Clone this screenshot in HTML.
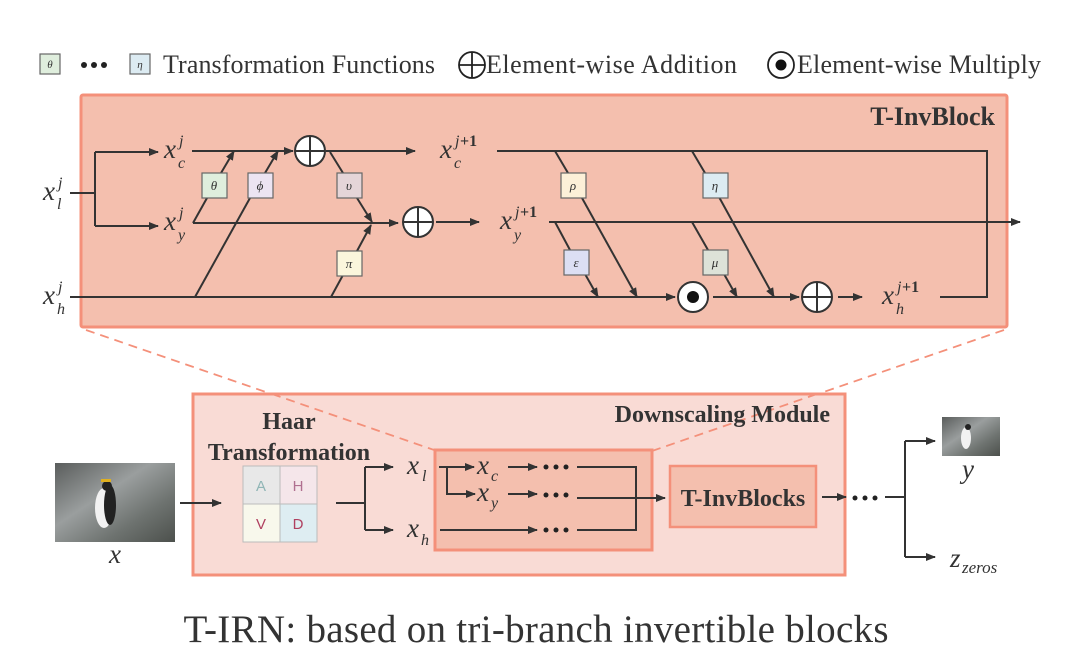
<!DOCTYPE html>
<html><head><meta charset="utf-8"><style>
html,body{margin:0;padding:0;background:#fff;}
svg{display:block;}
text{font-family:"Liberation Serif",serif;fill:#333;}
.m{font-style:italic;}
</style></head><body>
<svg width="1080" height="668" viewBox="0 0 1080 668" xmlns="http://www.w3.org/2000/svg">
<defs>
<marker id="a" markerWidth="10" markerHeight="8" refX="9" refY="4" orient="auto" markerUnits="userSpaceOnUse"><path d="M0,0 L10,4 L0,8 z" fill="#333"/></marker>
<linearGradient id="rock" x1="0" y1="0" x2="1" y2="1"><stop offset="0" stop-color="#5a5d5c"/><stop offset="0.4" stop-color="#9a9e9e"/><stop offset="0.7" stop-color="#6e7370"/><stop offset="1" stop-color="#4c504c"/></linearGradient>
</defs>

<!-- legend -->
<rect x="40" y="54" width="20" height="20" fill="#dfeedd" stroke="#666" stroke-width="1.2"/>
<text x="50" y="68" font-size="11" class="m" text-anchor="middle">θ</text>
<circle cx="84" cy="65" r="3" fill="#222"/><circle cx="94" cy="65" r="3" fill="#222"/><circle cx="104" cy="65" r="3" fill="#222"/>
<rect x="130" y="54" width="20" height="20" fill="#dcebf2" stroke="#666" stroke-width="1.2"/>
<text x="140" y="68" font-size="11" class="m" text-anchor="middle">η</text>
<text x="163" y="73" font-size="26" textLength="272">Transformation Functions</text>
<circle cx="472" cy="65" r="13" fill="#fff" stroke="#222" stroke-width="1.8"/><path d="M459,65 H485 M472,52 V78" stroke="#222" stroke-width="1.8"/>
<text x="486" y="73" font-size="26" textLength="251">Element-wise Addition</text>
<circle cx="781" cy="65" r="13" fill="#fff" stroke="#222" stroke-width="1.8"/><circle cx="781" cy="65" r="5.5" fill="#111"/>
<text x="797" y="73" font-size="26" textLength="244">Element-wise Multiply</text>

<!-- T-InvBlock -->
<rect x="81" y="95" width="926" height="232" fill="#f4bfae" stroke="#f4907a" stroke-width="3" rx="2"/>
<text x="995" y="125" font-size="26" font-weight="bold" text-anchor="end">T-InvBlock</text>

<g stroke="#333" stroke-width="2" fill="none">
<path d="M70,193 H95 M95,152 V226"/>
<path d="M95,152 H158" marker-end="url(#a)"/>
<path d="M95,226 H158" marker-end="url(#a)"/>
<path d="M192,151 H293" marker-end="url(#a)"/>
<path d="M193,223 H398" marker-end="url(#a)"/>
<path d="M193,223 L207,198"/><path d="M221,173 L234,151" marker-end="url(#a)"/>
<path d="M195,297 L250,198"/><path d="M265,173 L278,151" marker-end="url(#a)"/>
<path d="M326,151 H415" marker-end="url(#a)"/>
<path d="M330,152 L343,173"/><path d="M357,198 L372,222" marker-end="url(#a)"/>
<path d="M331,297 L343,275"/><path d="M357,251 L371,225" marker-end="url(#a)"/>
<path d="M436,222 H479" marker-end="url(#a)"/>
<path d="M497,151 H987 V297 H940"/>
<path d="M549,222 H1020" marker-end="url(#a)"/>
<path d="M70,297 H675" marker-end="url(#a)"/>
<path d="M555,151 L568,173"/><path d="M582,198 L637,297" marker-end="url(#a)"/>
<path d="M555,222 L570,250"/><path d="M585,274 L598,297" marker-end="url(#a)"/>
<path d="M692,151 L705,173"/><path d="M719,197 L774,297" marker-end="url(#a)"/>
<path d="M692,222 L708,250"/><path d="M724,274 L737,297" marker-end="url(#a)"/>
<path d="M713,297 H799" marker-end="url(#a)"/>
<path d="M838,297 H862" marker-end="url(#a)"/>
</g>
<g stroke="#333" stroke-width="2">
<circle cx="310" cy="151" r="15" fill="#fff"/><path d="M295,151 H325 M310,136 V166"/>
<circle cx="418" cy="222" r="15" fill="#fff"/><path d="M403,222 H433 M418,207 V237"/>
<circle cx="817" cy="297" r="15" fill="#fff"/><path d="M802,297 H832 M817,282 V312"/>
<circle cx="693" cy="297" r="15" fill="#fff"/>
</g>
<circle cx="693" cy="297" r="6" fill="#111"/>
<g stroke="#666" stroke-width="1.2">
<rect x="202" y="173" width="25" height="25" fill="#dfeedd"/>
<rect x="248" y="173" width="25" height="25" fill="#ece4f2"/>
<rect x="337" y="173" width="25" height="25" fill="#e5d5d8"/>
<rect x="337" y="251" width="25" height="25" fill="#fbf6dc"/>
<rect x="561" y="173" width="25" height="25" fill="#fcf0d8"/>
<rect x="564" y="250" width="25" height="25" fill="#dcdff3"/>
<rect x="703" y="173" width="25" height="25" fill="#dcebf2"/>
<rect x="703" y="250" width="25" height="25" fill="#dde2d8"/>
</g>
<g font-size="13" text-anchor="middle">
<text x="214" y="190" class="m">θ</text><text x="260" y="190" class="m">ϕ</text>
<text x="349" y="190" class="m">υ</text><text x="349" y="268" class="m">π</text>
<text x="573" y="190" class="m">ρ</text><text x="576" y="267" class="m">ε</text>
<text x="715" y="190" class="m">η</text><text x="715" y="267" class="m">μ</text>
</g>
<g font-size="27">
<text x="43" y="200" class="m">x</text><text x="58" y="188" font-size="16" class="m">j</text><text x="57" y="209" font-size="16" class="m">l</text>
<text x="43" y="304" class="m">x</text><text x="58" y="292" font-size="16" class="m">j</text><text x="57" y="314" font-size="16" class="m">h</text>
<text x="164" y="158" class="m">x</text><text x="179" y="146" font-size="16" class="m">j</text><text x="178" y="168" font-size="16" class="m">c</text>
<text x="164" y="230" class="m">x</text><text x="179" y="218" font-size="16" class="m">j</text><text x="178" y="240" font-size="16" class="m">y</text>
<text x="440" y="158" class="m">x</text><text x="455" y="146" font-size="16" class="m">j</text><text x="460" y="146" font-size="16" font-weight="bold">+1</text><text x="454" y="168" font-size="16" class="m">c</text>
<text x="500" y="229" class="m">x</text><text x="515" y="217" font-size="16" class="m">j</text><text x="520" y="217" font-size="16" font-weight="bold">+1</text><text x="514" y="240" font-size="16" class="m">y</text>
<text x="882" y="304" class="m">x</text><text x="897" y="292" font-size="16" class="m">j</text><text x="902" y="292" font-size="16" font-weight="bold">+1</text><text x="896" y="314" font-size="16" class="m">h</text>
</g>

<!-- dashed zoom lines (outer parts) -->
<path d="M86,330 L437,451 M1004,330 L652,451" stroke="#f4907a" stroke-width="1.8" stroke-dasharray="9,6" fill="none"/>

<!-- Downscaling module -->
<rect x="193" y="394" width="652" height="181" fill="#f9dbd5" stroke="#f4907a" stroke-width="3"/>
<path d="M272,394 L437,451 M652,451 L817,394" stroke="#f4907a" stroke-width="1.8" stroke-dasharray="9,6" fill="none"/>
<text x="830" y="422" font-size="24" font-weight="bold" text-anchor="end">Downscaling Module</text>
<text x="289" y="429" font-size="24" font-weight="bold" text-anchor="middle">Haar</text>
<text x="289" y="460" font-size="24" font-weight="bold" text-anchor="middle">Transformation</text>
<g stroke="#bbb" stroke-width="1">
<rect x="243" y="466" width="37" height="38" fill="#e8e8e8"/>
<rect x="280" y="466" width="37" height="38" fill="#f5e6ea"/>
<rect x="243" y="504" width="37" height="38" fill="#f8f8ec"/>
<rect x="280" y="504" width="37" height="38" fill="#deedf2"/>
</g>
<g font-size="15" text-anchor="middle">
<text x="261" y="491" style="fill:#8fb5b5;font-family:'Liberation Sans',sans-serif">A</text>
<text x="298" y="491" style="fill:#b07090;font-family:'Liberation Sans',sans-serif">H</text>
<text x="261" y="529" style="fill:#b04060;font-family:'Liberation Sans',sans-serif">V</text>
<text x="298" y="529" style="fill:#b04060;font-family:'Liberation Sans',sans-serif">D</text>
</g>
<rect x="435" y="450" width="217" height="100" fill="#f4bfae" stroke="#f4907a" stroke-width="3"/>
<rect x="670" y="466" width="146" height="61" fill="#f4bfae" stroke="#f4907a" stroke-width="2.5"/>
<text x="743" y="506" font-size="24" font-weight="bold" text-anchor="middle">T-InvBlocks</text>

<g stroke="#333" stroke-width="2" fill="none">
<path d="M180,503 H221" marker-end="url(#a)"/>
<path d="M336,503 H365 M365,467 V530"/>
<path d="M365,467 H393" marker-end="url(#a)"/>
<path d="M365,530 H393" marker-end="url(#a)"/>
<path d="M439,467 H474" marker-end="url(#a)"/>
<path d="M447,467 V494 H475" marker-end="url(#a)"/>
<path d="M508,467 H537" marker-end="url(#a)"/>
<path d="M508,494 H537" marker-end="url(#a)"/>
<path d="M440,530 H537" marker-end="url(#a)"/>
<path d="M577,467 H636 V530 H577"/>
<path d="M577,498 H665" marker-end="url(#a)"/>
<path d="M822,497 H846" marker-end="url(#a)"/>
<path d="M885,497 H905 M905,441 V557"/>
<path d="M905,441 H935" marker-end="url(#a)"/>
<path d="M905,557 H935" marker-end="url(#a)"/>
</g>
<g fill="#222">
<circle cx="546" cy="467" r="2.5"/><circle cx="556" cy="467" r="2.5"/><circle cx="566" cy="467" r="2.5"/>
<circle cx="546" cy="495" r="2.5"/><circle cx="556" cy="495" r="2.5"/><circle cx="566" cy="495" r="2.5"/>
<circle cx="546" cy="530" r="2.5"/><circle cx="556" cy="530" r="2.5"/><circle cx="566" cy="530" r="2.5"/>
<circle cx="855" cy="498" r="2.5"/><circle cx="865" cy="498" r="2.5"/><circle cx="875" cy="498" r="2.5"/>
</g>
<g font-size="27">
<text x="407" y="474" class="m">x</text><text x="422" y="481" font-size="16" class="m">l</text>
<text x="407" y="537" class="m">x</text><text x="421" y="545" font-size="16" class="m">h</text>
<text x="477" y="474" class="m">x</text><text x="491" y="481" font-size="16" class="m">c</text>
<text x="477" y="501" class="m">x</text><text x="491" y="508" font-size="16" class="m">y</text>
<text x="962" y="478" class="m">y</text>
<text x="109" y="563" class="m">x</text>
<text x="950" y="567" class="m">z</text><text x="962" y="573" font-size="17" class="m">zeros</text>
</g>

<!-- images -->
<rect x="55" y="463" width="120" height="79" fill="url(#rock)"/>
<ellipse cx="104" cy="508" rx="9" ry="20" fill="#f2f2f2"/>
<ellipse cx="110" cy="505" rx="6" ry="20" fill="#222"/>
<circle cx="107" cy="486" r="5" fill="#222"/><rect x="101" y="479" width="10" height="3" fill="#e0b020"/>
<rect x="942" y="417" width="58" height="39" fill="url(#rock)"/>
<ellipse cx="966" cy="438" rx="5" ry="11" fill="#f2f2f2"/>
<circle cx="968" cy="427" r="3" fill="#222"/>

<text x="536" y="642" font-size="39" text-anchor="middle" textLength="705">T-IRN: based on tri-branch invertible blocks</text>
</svg>
</body></html>
